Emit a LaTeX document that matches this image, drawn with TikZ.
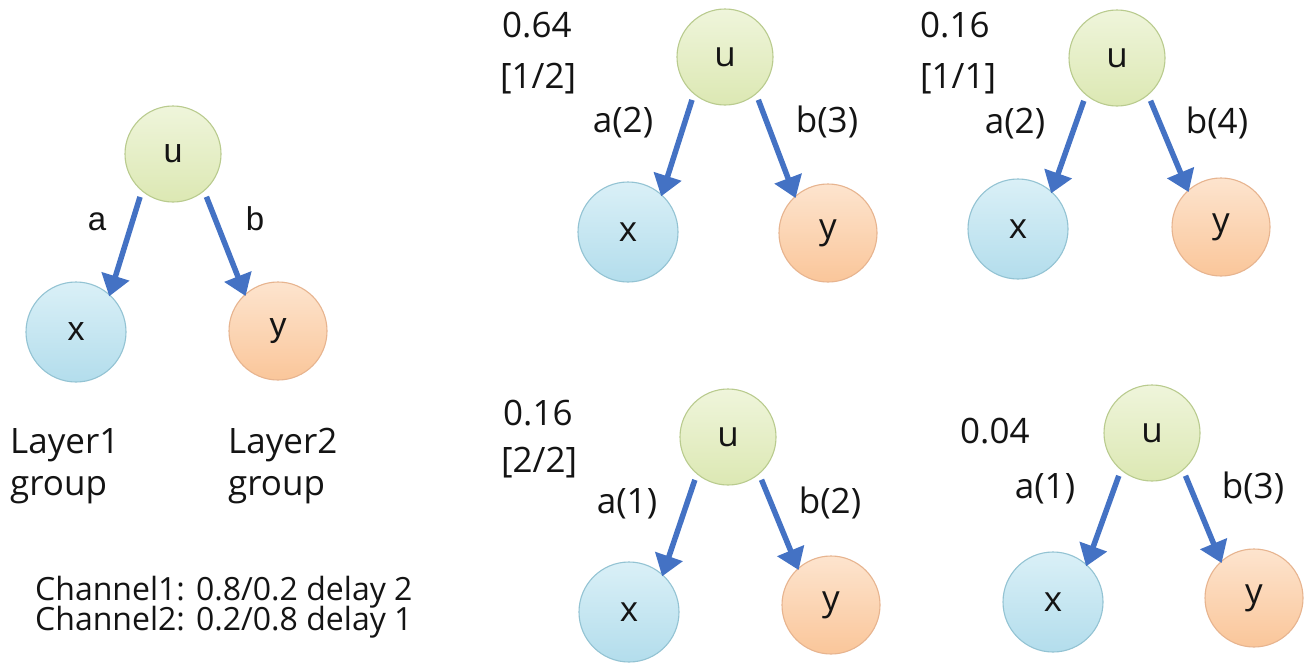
\documentclass[tikz,border=0pt]{standalone}
\usepackage{fontspec}
\setmainfont{Open Sans}
\newfontfamily\arialfont{Liberation Sans}
\usetikzlibrary{arrows.meta}

\definecolor{edgeblue}{HTML}{4472C4}
\definecolor{utop}{HTML}{EFF5DB}
\definecolor{ubot}{HTML}{DCE8B3}
\definecolor{uline}{HTML}{B9CB8E}
\definecolor{xtop}{HTML}{DAF0F7}
\definecolor{xbot}{HTML}{B3DDEC}
\definecolor{xline}{HTML}{93C3D3}
\definecolor{ytop}{HTML}{FDE4CE}
\definecolor{ybot}{HTML}{FAC69A}
\definecolor{yline}{HTML}{E7B48F}
\definecolor{txt}{HTML}{141414}

\begin{document}
\begin{tikzpicture}[x=1pt,y=-1pt,
  vertex/.style={circle, inner sep=0pt, line width=1.1pt, text=txt,
    font=\fontsize{35}{40}\selectfont},
  unode/.style={vertex, minimum size=96pt, draw=uline, top color=utop, bottom color=ubot},
  xnode/.style={vertex, minimum size=100pt, draw=xline, top color=xtop, bottom color=xbot},
  ynode/.style={vertex, minimum size=98pt, draw=yline, top color=ytop, bottom color=ybot},
  arialvertex/.style={font=\arialfont\fontsize{34}{40}\selectfont},
  edge/.style={draw=edgeblue, line width=5.5pt, shorten <=6pt, shorten >=-2pt,
    -{Triangle[width=28pt,length=21pt]}},
  lbl/.style={anchor=base, inner sep=0pt, text=txt, font=\fontsize{35}{40}\selectfont},
  arlbl/.style={anchor=base, inner sep=0pt, text=txt, font=\arialfont\fontsize{33}{40}\selectfont},
  note/.style={anchor=base west, inner sep=0pt, text=txt, font=\fontsize{35}{40}\selectfont},
  layer/.style={anchor=base west, inner sep=0pt, text=txt, font=\fontsize{35}{40}\selectfont},
  chan/.style={anchor=base west, inner sep=0pt, text=txt, font=\fontsize{32}{38}\selectfont}
]
\useasboundingbox[fill=white] (0,0) rectangle (1316,664);

% ---- group overview ----
\node[unode, arialvertex] (u1) at (173,154) {u};
\node[xnode, arialvertex] (x1) at (76,332) {x};
\node[ynode, arialvertex] (y1) at (278,331) {y};
\draw[edge] (u1.230) -- (x1.48);
\draw[edge] (u1.310) -- (y1.132);
\node[arlbl] (a1) at (97,230) {a};
\node[arlbl] (b1) at (255,230) {b};
\node[layer] (l1) at (10,453) {Layer1};
\node[layer] (g1) at (10,495) {group};
\node[layer] (l2) at (228,453) {Layer2};
\node[layer] (g2) at (228,495) {group};
\node[chan] (c1) at (35,600) {Channel1: 0.8/0.2 delay 2};
\node[chan] (c2) at (35,630) {Channel2: 0.2/0.8 delay 1};

% ---- case 1/2 ----
\node[unode] (u2) at (725,57) {u};
\node[xnode] (x2) at (628,232) {x};
\node[ynode] (y2) at (828,233) {y};
\draw[edge] (u2.230) -- (x2.48);
\draw[edge] (u2.310) -- (y2.132);
\node[note] (p2) at (502,37) {0.64};
\node[note] (r2) at (500,88) {[1/2]};
\node[lbl] (a2) at (623,132) {a(2)};
\node[lbl] (b2) at (827,132) {b(3)};

% ---- case 1/1 ----
\node[unode] (u3) at (1117,58) {u};
\node[xnode] (x3) at (1018,229) {x};
\node[ynode] (y3) at (1221,227) {y};
\draw[edge] (u3.230) -- (x3.48);
\draw[edge] (u3.310) -- (y3.132);
\node[note] (p3) at (920,37) {0.16};
\node[note] (r3) at (920,88) {[1/1]};
\node[lbl] (a3) at (1015,133) {a(2)};
\node[lbl] (b3) at (1217,133) {b(4)};

% ---- case 2/2 ----
\node[unode] (u4) at (728,437) {u};
\node[xnode] (x4) at (629,612) {x};
\node[ynode] (y4) at (831,605) {y};
\draw[edge] (u4.230) -- (x4.48);
\draw[edge] (u4.310) -- (y4.132);
\node[note] (p4) at (503,425) {0.16};
\node[note] (r4) at (501,472) {[2/2]};
\node[lbl] (a4) at (627,513) {a(1)};
\node[lbl] (b4) at (830,513) {b(2)};

% ---- remaining case ----
\node[unode] (u5) at (1152,433) {u};
\node[xnode] (x5) at (1053,602) {x};
\node[ynode] (y5) at (1254,598) {y};
\draw[edge] (u5.230) -- (x5.48);
\draw[edge] (u5.310) -- (y5.132);
\node[note] (p5) at (960,443) {0.04};
\node[lbl] (a5) at (1045,498) {a(1)};
\node[lbl] (b5) at (1253,498) {b(3)};
\end{tikzpicture}
\end{document}
